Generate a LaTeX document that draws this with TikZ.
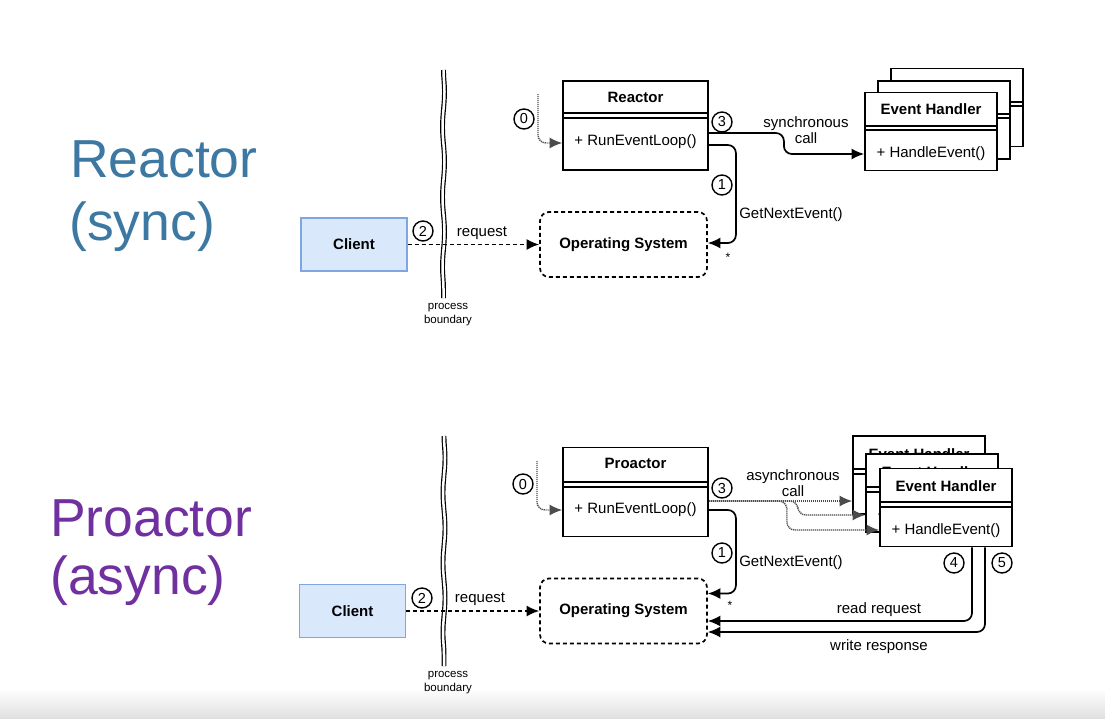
\documentclass[tikz,border=0pt]{standalone}
\usepackage{fontspec}
\setmainfont{Liberation Sans}
\usetikzlibrary{positioning,arrows.meta,calc,decorations.pathmorphing}
\definecolor{reactorblue}{HTML}{3C78A2}
\definecolor{proactorpurple}{HTML}{7030A0}
\definecolor{clientfill}{HTML}{DAE8FC}
\definecolor{clientdraw}{HTML}{7EA6E0}
\tikzset{
    >={Latex[length=12.5pt,width=11pt]},
    classbox/.style = {
        draw,
        fill=white,
        shape=rectangle,
        minimum width=145pt,
        minimum height=89pt,
        inner sep=0pt,
        line width=1.8pt
    },
    handler/.style = {
        classbox,
        minimum width=132pt,
        minimum height=78pt
    },
    client/.style = {
        draw=clientdraw,
        fill=clientfill,
        shape=rectangle,
        minimum width=106pt,
        minimum height=53pt,
        line width=1.4pt,
        font=\bfseries\fontsize{15}{18}\selectfont
    },
    osbox/.style = {
        draw,
        shape=rectangle,
        rounded corners=9pt,
        dash pattern=on 4pt off 3pt,
        minimum width=167pt,
        minimum height=65pt,
        line width=1.7pt,
        font=\bfseries\fontsize{15}{18}\selectfont
    },
    classtitle/.style = {inner sep=0pt, font=\bfseries\fontsize{15}{18}\selectfont},
    classmethod/.style = {inner sep=0pt, font=\fontsize{15}{18}\selectfont},
    divider/.style = {line width=1.8pt},
    callout/.style = {
        draw,
        shape=circle,
        minimum size=20pt,
        inner sep=0pt,
        line width=1.4pt,
        font=\fontsize{14.5}{14.5}\selectfont
    },
    note/.style = {inner sep=0pt, align=center, font=\fontsize{15}{18}\selectfont},
    boundarynote/.style = {inner sep=0pt, align=center, font=\fontsize{11.5}{14}\selectfont},
    star/.style = {inner sep=0pt, font=\fontsize{12}{12}\selectfont},
    bigtext/.style = {inner sep=0pt, anchor=base west, font=\fontsize{53.5}{60}\selectfont},
    request/.style = {->, line width=1.7pt, dash pattern=on 4pt off 3pt},
    call/.style = {->, line width=1.7pt, rounded corners=8pt},
    spawn/.style = {->, line width=1.4pt, draw=black!70, dash pattern=on 1.2pt off 0.8pt, rounded corners=8pt},
    boundary/.style = {
        double,
        double distance=2.5pt,
        line width=1.2pt,
        decorate,
        decoration={snake, segment length=70pt, amplitude=1pt}
    },
}

\begin{document}
\begin{tikzpicture}[x=1pt,y=-1pt]
    \useasboundingbox (0,0) rectangle (1105,718);
    \fill[white] (0,0) rectangle (1105,718);
    \shade[top color=white, bottom color=black!12] (0,688) rectangle (1105,718);

    % ---------- Reactor (sync) ----------
    \node[bigtext, text=reactorblue] (reactorname) at (70,177) {Reactor};
    \node[bigtext, text=reactorblue] (syncname) at (69,240) {(sync)};

    \draw[boundary] (443.5,70) -- (443.5,298);
    \node[boundarynote] (boundary1) at (448,315) {process\\boundary};

    \node[client] (client1) at (354,244.5) {Client};
    \node[osbox] (os1) at (623.5,244.5) {Operating System};

    \node[classbox] (reactor) at (635.5,125.5) {};
    \node[classtitle] (reactortitle) at ([yshift=-17pt]reactor.north) {Reactor};
    \draw[divider] ([yshift=-33pt]reactor.north west) -- ([yshift=-33pt]reactor.north east);
    \draw[divider] ([yshift=-38pt]reactor.north west) -- ([yshift=-38pt]reactor.north east);
    \node[classmethod] (reactorloop) at ([yshift=-62pt]reactor.north) {+ RunEventLoop()};

    \node[handler] (eh1a) at (957,107.5) {};
    \node[classtitle] (eh1atitle) at ([yshift=-20pt]eh1a.north) {Event Handler};
    \draw[divider] ([yshift=-34pt]eh1a.north west) -- ([yshift=-34pt]eh1a.north east);
    \draw[divider] ([yshift=-38pt]eh1a.north west) -- ([yshift=-38pt]eh1a.north east);
    \node[classmethod] (eh1amethod) at ([yshift=-62pt]eh1a.north) {+ HandleEvent()};

    \node[handler] (eh1b) at (944,120) {};
    \node[classtitle] (eh1btitle) at ([yshift=-18pt]eh1b.north) {Event Handler};
    \draw[divider] ([yshift=-34pt]eh1b.north west) -- ([yshift=-34pt]eh1b.north east);
    \draw[divider] ([yshift=-38pt]eh1b.north west) -- ([yshift=-38pt]eh1b.north east);
    \node[classmethod] (eh1bmethod) at ([yshift=-62pt]eh1b.north) {+ HandleEvent()};

    \node[handler] (eh1c) at (931,131.5) {};
    \node[classtitle] (eh1ctitle) at ([yshift=-18pt]eh1c.north) {Event Handler};
    \draw[divider] ([yshift=-34pt]eh1c.north west) -- ([yshift=-34pt]eh1c.north east);
    \draw[divider] ([yshift=-38pt]eh1c.north west) -- ([yshift=-38pt]eh1c.north east);
    \node[classmethod] (eh1cmethod) at ([yshift=-62pt]eh1c.north) {+ HandleEvent()};

    \node[callout] (c0r) at (524,119) {0};
    \node[callout] (c1r) at (722,185) {1};
    \node[callout] (c2r) at (423,231) {2};
    \node[callout] (c3r) at (722,122) {3};

    \node[note] (requestr) at (482,233) {request};
    \node[note] (syncr) at (806,130) {synchronous\\[-2pt]call};
    \node[note] (nextr) at (791,215) {GetNextEvent()};
    \node[star] (starr) at (728,257) {*};

    \coordinate (start0r) at (538,94);
    \draw[spawn] (start0r) |- ([yshift=-17.5pt]reactor.west);
    \draw[request] (client1) -- (os1);
    \draw[call] ([yshift=-7.5pt]reactor.east) -- ++(75,0) |- ([yshift=-22.5pt]eh1c.west);
    \draw[call] ([yshift=-19.5pt]reactor.east) -- ++(27,0) |- ([yshift=1.5pt]os1.east);

    % ---------- Proactor (async) ----------
    \node[bigtext, text=proactorpurple] (proactorname) at (50,536) {Proactor};
    \node[bigtext, text=proactorpurple] (asyncname) at (50,594) {(async)};

    \draw[boundary] (444,436) -- (444,666);
    \node[boundarynote] (boundary2) at (448,683) {process\\boundary};

    \node[client] (client2) at (352.5,611) {Client};
    \node[osbox] (os2) at (623.5,611) {Operating System};

    \node[classbox] (proactor) at (635.5,492) {};
    \node[classtitle] (proactortitle) at ([yshift=-17pt]proactor.north) {Proactor};
    \draw[divider] ([yshift=-35pt]proactor.north west) -- ([yshift=-35pt]proactor.north east);
    \draw[divider] ([yshift=-40pt]proactor.north west) -- ([yshift=-40pt]proactor.north east);
    \node[classmethod] (proactorloop) at ([yshift=-63pt]proactor.north) {+ RunEventLoop()};

    \node[handler] (eh2a) at (919,475) {};
    \node[classtitle] (eh2atitle) at ([yshift=-19pt]eh2a.north) {Event Handler};
    \draw[divider] ([yshift=-34pt]eh2a.north west) -- ([yshift=-34pt]eh2a.north east);
    \draw[divider] ([yshift=-39pt]eh2a.north west) -- ([yshift=-39pt]eh2a.north east);
    \node[classmethod] (eh2amethod) at ([yshift=-63pt]eh2a.north) {+ HandleEvent()};

    \node[handler] (eh2b) at (932,493) {};
    \node[classtitle] (eh2btitle) at ([yshift=-19pt]eh2b.north) {Event Handler};
    \draw[divider] ([yshift=-34pt]eh2b.north west) -- ([yshift=-34pt]eh2b.north east);
    \draw[divider] ([yshift=-39pt]eh2b.north west) -- ([yshift=-39pt]eh2b.north east);
    \node[classmethod] (eh2bmethod) at ([yshift=-63pt]eh2b.north) {+ HandleEvent()};

    \node[handler] (eh2c) at (946,507.5) {};
    \node[classtitle] (eh2ctitle) at ([yshift=-19pt]eh2c.north) {Event Handler};
    \draw[divider] ([yshift=-34pt]eh2c.north west) -- ([yshift=-34pt]eh2c.north east);
    \draw[divider] ([yshift=-39pt]eh2c.north west) -- ([yshift=-39pt]eh2c.north east);
    \node[classmethod] (eh2cmethod) at ([yshift=-63pt]eh2c.north) {+ HandleEvent()};

    \node[callout] (c0p) at (523,484) {0};
    \node[callout] (c1p) at (722,553) {1};
    \node[callout] (c2p) at (422,598) {2};
    \node[callout] (c3p) at (722,488) {3};
    \node[callout] (c4p) at (954,563) {4};
    \node[callout] (c5p) at (1002,563) {5};

    \node[note] (requestp) at (480,599) {request};
    \node[note] (asyncp) at (793,483) {asynchronous\\[-2pt]call};
    \node[note] (nextp) at (791,563) {GetNextEvent()};
    \node[star] (starp) at (730,605) {*};
    \node[note] (readp) at (879,610) {read request};
    \node[note] (writep) at (879,647) {write response};

    \coordinate (start0p) at (537,461);
    \draw[spawn] (start0p) |- ([yshift=-18pt]proactor.west);
    \draw[request] (client2) -- (os2);
    \draw[spawn] ([yshift=-9pt]proactor.east) -- ([yshift=-26pt]eh2a.west);
    \draw[spawn] ([yshift=-9pt]proactor.east) -- ++(89,0) |- ([yshift=-22pt]eh2b.west);
    \draw[spawn] ([yshift=-9pt]proactor.east) -- ++(78,0) |- ([yshift=-22.5pt]eh2c.west);
    \draw[call] ([yshift=-18pt]proactor.east) -- ++(27,0) |- ([yshift=17.5pt]os2.east);
    \draw[call] ([xshift=26pt]eh2c.south) |- ([yshift=-10pt]os2.east);
    \draw[call] ([xshift=39pt]eh2c.south) |- ([yshift=-21pt]os2.east);
\end{tikzpicture}
\end{document}
